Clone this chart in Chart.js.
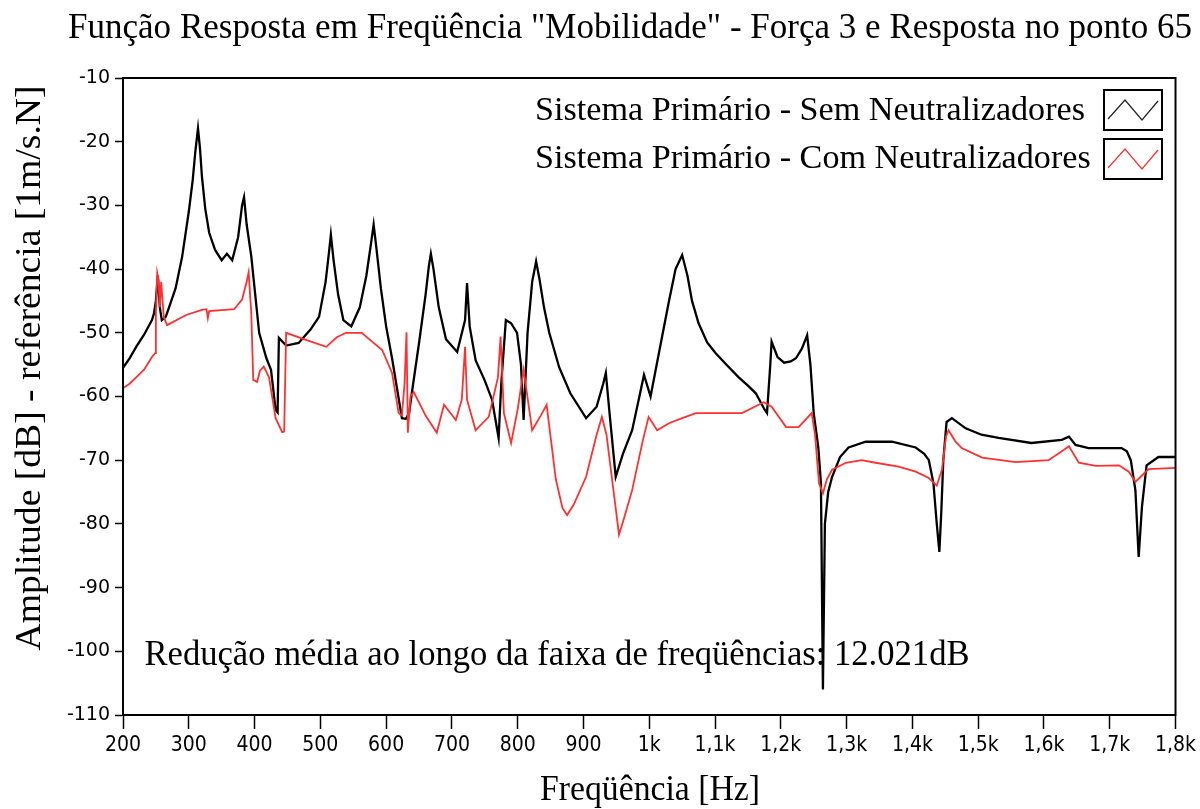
<!DOCTYPE html>
<html>
<head>
<meta charset="utf-8">
<script src="https://cdn.jsdelivr.net/npm/chart.js@4.4.1/dist/chart.umd.min.js"></script>
<style>
html,body{margin:0;padding:0;background:#fff;}
#wrap{position:relative;width:1200px;height:809px;}
</style>
</head>
<body>
<div id="wrap"><canvas id="c"></canvas></div>
<script>
// ---- Data ----
const semFreq = [200,210,220,232,244,247,250,253,256,259,265,270,280,290,300,306,310,314,317,320,325,331,340,350,358,366,375,381,384,388,395,407,418,425,432,435,437,448,467,485,498,508,513,516,520,527,535,547,560,570,577,581,585,592,600,609,624,630,635,639,650,660,665,668,672,680,691,708,720,723,727,736,750,761,771,775,782,790,799,805,809,815,822,828,833,840,848,863,880,904,920,930,934,940,949,960,974,985,992,1002,1015,1030,1040,1050,1058,1065,1075,1088,1101,1120,1136,1150,1162,1175,1179,1184,1186,1195,1205,1215,1223,1232,1240,1245,1250,1257,1261,1264,1267,1272,1278,1290,1303,1329,1369,1405,1418,1425,1432,1437,1441,1444,1447,1452,1460,1481,1505,1531,1581,1627,1638,1648,1668,1718,1726,1732,1739,1744,1749,1756,1774,1800];
const semDb = [-55.5,-54,-52.2,-50.3,-48,-47,-45,-41,-46,-48,-47.5,-46,-43,-38,-31,-26,-21.5,-17.9,-21,-25.5,-30.5,-34.3,-37,-38.6,-37.6,-38.6,-35,-30,-28.7,-33,-38,-50,-54,-55.8,-62.1,-62.5,-50.8,-52,-51.6,-49.5,-47.5,-42,-37.5,-34.6,-38.5,-44,-48,-49,-46,-41,-36,-33,-36.5,-43,-49,-54,-63.4,-63.5,-62.6,-59.5,-51.6,-44,-39.5,-37.6,-40,-46,-51,-53,-48,-42.2,-49,-54.3,-57.5,-60.5,-66.5,-58,-48,-48.5,-50,-55,-63.7,-50,-42,-38.8,-41.5,-46,-50,-55.4,-59.5,-63.4,-61.6,-58,-56.3,-63,-72.6,-69,-65.3,-60,-56.6,-60,-53,-45,-40,-37.8,-41,-45,-48.5,-51.5,-53.2,-55.3,-57,-58.3,-59.5,-62,-62.6,-55,-51.4,-53.8,-54.7,-54.5,-54,-52.5,-50.4,-55,-62.6,-68,-73.6,-106,-80,-75,-72.6,-69.5,-68,-67.1,-67.1,-68,-69,-70,-73.6,-79.9,-84.4,-78,-70,-64,-63.4,-65,-66,-66.5,-67.3,-66.8,-66.3,-67.6,-68.1,-68.1,-68.6,-70,-74.7,-85.2,-77.3,-70.8,-69.5,-69.5];

const comFreq = [200,210,220,232,244,249,250,252,254,256,258,262,267,296,320,327,329,331,369,381,388,391,395,398,404,408,414,422,432,442,445,448,478,509,525,539,563,580,594,609,619,624,628,631,633,637,642,660,677,688,706,715,720,723,736,756,770,774,779,790,800,809,822,835,844,858,868,875,885,904,920,928,935,943,954,962,974,990,999,1012,1030,1050,1071,1141,1174,1186,1208,1227,1247,1252,1258,1264,1270,1278,1299,1323,1344,1379,1405,1425,1437,1445,1451,1455,1465,1475,1506,1557,1607,1630,1638,1653,1679,1714,1729,1739,1749,1759,1800];
const comDb = [-58.7,-58,-57,-55.8,-53.8,-53.2,-47,-40.6,-41.7,-46,-42,-47.5,-48.8,-47.2,-46.4,-46.3,-47.7,-46.6,-46.3,-44.8,-42,-40.5,-46.9,-57.4,-57.7,-56,-55.3,-57,-63.4,-65.6,-65.5,-50,-51.1,-52.2,-50.7,-50,-50,-51.5,-52.7,-56.3,-62.6,-63,-58,-49.9,-65.7,-60,-59.3,-63,-65.7,-61.3,-63.7,-60.5,-52.2,-60.5,-65.3,-63.2,-57,-50.6,-62.6,-67.3,-62,-55.8,-65.3,-63,-61.3,-73,-77.5,-78.6,-77,-72.6,-66,-63.2,-66,-72.6,-81.7,-79,-74.7,-67,-63.2,-65.3,-64.2,-63.4,-62.6,-62.6,-60.9,-61.6,-64.8,-64.8,-62.6,-66,-73.6,-75.2,-73,-71.5,-70.4,-70,-70.4,-71,-71.8,-72.8,-74,-71.5,-66.3,-65.3,-67,-68.1,-69.6,-70.3,-70,-68.4,-67.8,-70.4,-70.9,-70.8,-71.8,-73.4,-72.4,-71.4,-71.2];

const xTickValues = [200,300,400,500,600,700,800,900,1000,1100,1200,1300,1400,1500,1600,1700,1800];
const xTickLabels = ['200','300','400','500','600','700','800','900','1k','1,1k','1,2k','1,3k','1,4k','1,5k','1,6k','1,7k','1,8k'];
const seriesNames = ['Sistema Primário - Sem Neutralizadores','Sistema Primário - Com Neutralizadores'];
const titleText = 'Função Resposta em Freqüência "Mobilidade" - Força 3 e Resposta no ponto 65';
const xTitle = 'Freqüência [Hz]';
const yTitle = 'Amplitude [dB] - referência [1m/s.N]';
const noteText = 'Redução média ao longo da faixa de freqüências: 12.021dB';

const SERIF = '"Liberation Serif","DejaVu Serif",serif';
const BLACK = '#000000';
const RED = '#ff3030';

function fitText(ctx, text, x, y, targetW, rot) {
  ctx.save();
  ctx.translate(x, y);
  if (rot) ctx.rotate(rot);
  const w = ctx.measureText(text).width;
  ctx.scale(targetW / w, 1);
  ctx.textAlign = 'center';
  ctx.textBaseline = 'middle';
  ctx.fillText(text, 0, 0);
  ctx.restore();
}

const decor = {
  id: 'decor',
  afterDraw(chart) {
    const ctx = chart.ctx;
    const a = chart.chartArea;
    ctx.save();
    ctx.strokeStyle = '#000';
    ctx.lineWidth = 2;
    ctx.strokeRect(a.left, a.top, a.right - a.left, a.bottom - a.top);
    ctx.fillStyle = '#000';
    ctx.font = '35px ' + SERIF;
    fitText(ctx, titleText, 630, 29, 1124);
    fitText(ctx, xTitle, 650, 791, 220);
    fitText(ctx, yTitle, 31, 368, 565, -Math.PI / 2);
    fitText(ctx, noteText, 557, 656, 825);
    ctx.font = '34px ' + SERIF;
    const w1 = ctx.measureText(seriesNames[0]).width;
    const s = 550 / w1;
    const rows = [{y: 111, c: '#222', by: 90}, {y: 159, c: RED, by: 139}];
    rows.forEach((r, i) => {
      ctx.save();
      ctx.translate(535, r.y);
      ctx.scale(s, 1);
      ctx.textAlign = 'left';
      ctx.textBaseline = 'middle';
      ctx.fillStyle = '#000';
      ctx.fillText(seriesNames[i], 0, 0);
      ctx.restore();
      const bx = 1104, bw = 58, bh = 40;
      ctx.strokeStyle = '#000';
      ctx.lineWidth = 2;
      ctx.strokeRect(bx, r.by, bw, bh);
      ctx.strokeStyle = r.c;
      ctx.lineWidth = 1.2;
      ctx.beginPath();
      ctx.moveTo(bx + 4, r.by + 29);
      ctx.lineTo(bx + 21, r.by + 10);
      ctx.lineTo(bx + 38, r.by + 30);
      ctx.lineTo(bx + 54, r.by + 11);
      ctx.stroke();
    });
    ctx.restore();
  }
};

new Chart(document.getElementById('c'), {
  type: 'line',
  data: {
    datasets: [
      {
        label: seriesNames[1],
        data: comFreq.map((f, i) => ({x: f, y: comDb[i]})),
        borderColor: RED, borderWidth: 1.8, pointRadius: 0, tension: 0, fill: false
      },
      {
        label: seriesNames[0],
        data: semFreq.map((f, i) => ({x: f, y: semDb[i]})),
        borderColor: BLACK, borderWidth: 2.3, pointRadius: 0, tension: 0, fill: false
      }
    ]
  },
  options: {
    responsive: true,
    maintainAspectRatio: false,
    animation: false,
    events: [],
    layout: {padding: {top: 78, right: 22, left: 0, bottom: 0}, autoPadding: false},
    plugins: {legend: {display: false}, title: {display: false}, tooltip: {enabled: false}},
    scales: {
      x: {
        type: 'linear', min: 200, max: 1800,
        afterFit(s) { s.height = 94; },
        afterBuildTicks(s) { s.ticks = xTickValues.map(v => ({value: v})); },
        ticks: {
          autoSkip: false, maxRotation: 0, padding: 4, color: '#000',
          font: {family: '"Liberation Sans Narrow","DejaVu Sans Condensed","DejaVu Sans",sans-serif', size: 21},
          callback: (v) => { const i = xTickValues.indexOf(v); return i >= 0 ? xTickLabels[i] : ''; }
        },
        grid: {drawOnChartArea: false, drawTicks: true, tickLength: 14, color: '#000', tickWidth: 1.5},
        border: {display: true, color: '#000', width: 2}
      },
      y: {
        type: 'linear', min: -110, max: -10,
        afterFit(s) { s.width = 123; },
        ticks: {stepSize: 10, padding: 5, color: '#000',
          font: {family: '"DejaVu Sans",Verdana,sans-serif', size: 19}},
        grid: {drawOnChartArea: false, drawTicks: true, tickLength: 8, color: '#000', tickWidth: 1.5},
        border: {display: true, color: '#000', width: 2}
      }
    }
  },
  plugins: [decor]
});
</script>
</body>
</html>
